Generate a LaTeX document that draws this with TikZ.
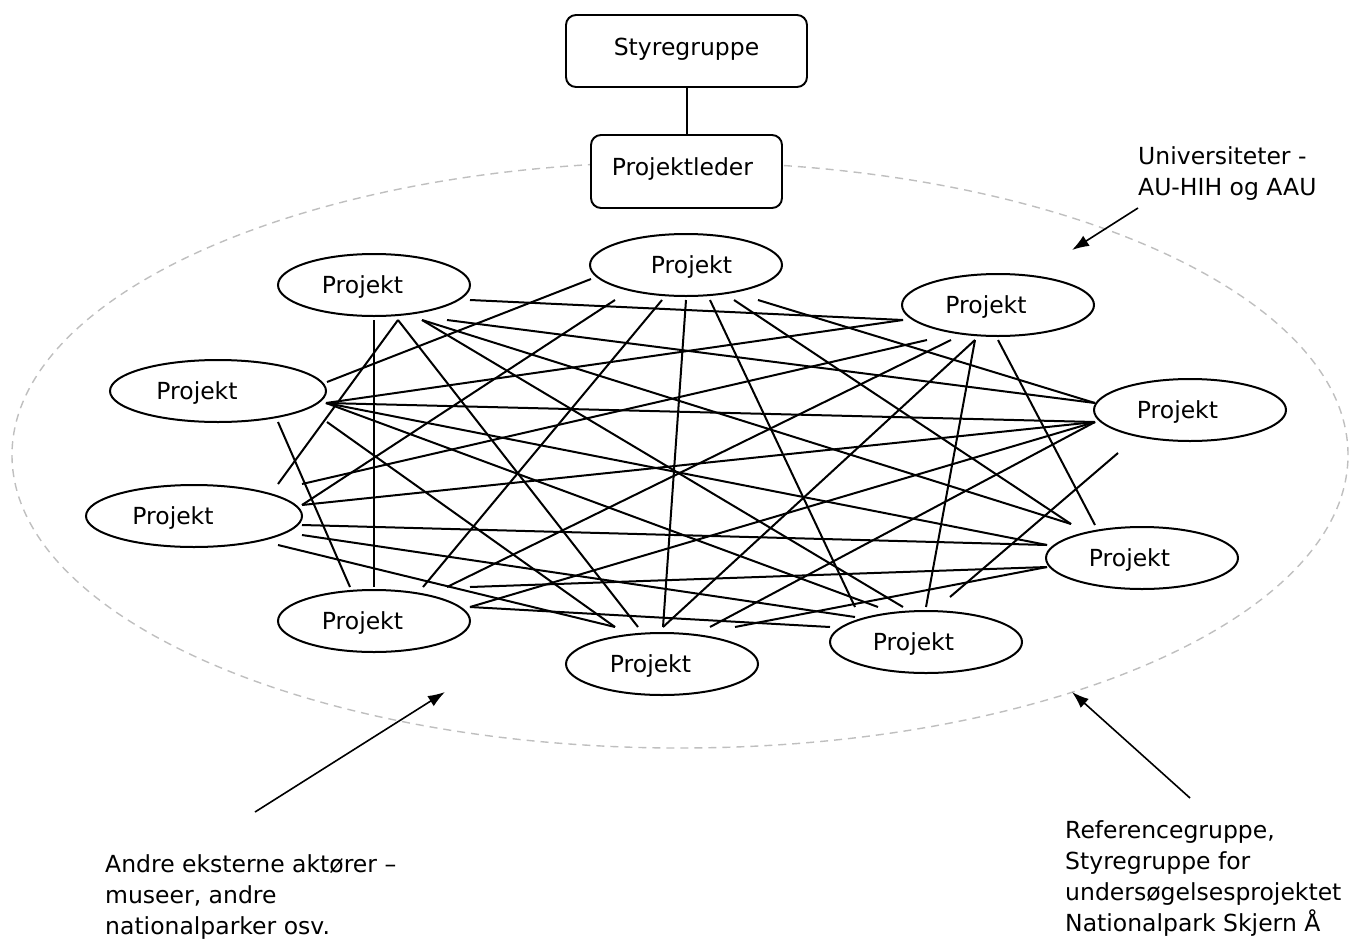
\documentclass[tikz,border=0pt]{standalone}
\usepackage{fontspec}
\setmainfont{DejaVu Sans}
\usetikzlibrary{calc,shapes.geometric,arrows.meta}
\begin{document}
\begin{tikzpicture}[x=1pt,y=-1pt,
  every node/.style={font=\fontsize{23.5}{31.3}\selectfont},
  proj/.style={draw, ellipse, line width=2pt, minimum width=192pt, minimum height=62pt, inner sep=0pt, text height=17pt, text depth=0pt},
  wideproj/.style={proj, minimum width=216pt},
  box/.style={draw, rounded corners=10pt, line width=1.9pt, fill=white, inner sep=0pt, text height=17pt, text depth=9pt},
  link/.style={line width=2pt},
  arr/.style={line width=1.6pt, -{Latex[length=17pt,width=12pt]}},
  note/.style={anchor=north west, align=left, inner sep=0pt}
]
\useasboundingbox (0,0) rectangle (1354,945);
% outer dashed group
\draw[gray!50, line width=1.4pt, dash pattern=on 8pt off 6pt] (680,455) ellipse [x radius=668pt, y radius=293pt];

\node[box, minimum width=241pt, minimum height=72pt] (sty) at (686.5,51) {Styregruppe};
\node[box, minimum width=191pt, minimum height=73pt] (pl) at (686.5,171.5) {Projektleder\kern8pt};
\draw[link] (sty) -- (pl);

\node[proj] (p1) at (374,285) {Projekt\kern23pt};
\node[proj] (p2) at (686,265) {\kern11pt Projekt};
\node[proj] (p3) at (998,305) {Projekt\kern24pt};
\node[wideproj] (p4) at (218,391) {Projekt\kern42pt};
\node[proj] (p5) at (1190,410) {Projekt\kern25pt};
\node[wideproj] (p6) at (194,516) {Projekt\kern42pt};
\node[proj] (p7) at (1142,558) {Projekt\kern25pt};
\node[proj] (p8) at (374,621) {Projekt\kern23pt};
\node[proj] (p9) at (662,664) {Projekt\kern23pt};
\node[proj] (p10) at (926,642) {Projekt\kern25pt};

\foreach \a/\ax/\ay/\b/\bx/\by in {
  p1/96/15/p3/-95/15, p1/0/35/p8/0/-34, p1/24/35/p6/84/-32, p1/24/35/p9/-24/-37,
  p1/48/35/p10/-23/-35, p1/48/35/p7/-71/-34, p1/73/35/p5/-95/-7,
  p2/-95/14/p4/109/-9, p2/-71/35/p6/108/-11, p2/-24/35/p8/49/-34, p2/0/35/p9/1/-37,
  p2/24/35/p10/-71/-35, p2/48/35/p7/-71/-34, p2/72/35/p5/-95/-7,
  p3/-95/15/p4/108/12, p3/-71/35/p6/108/-32, p3/-47/35/p8/73/-34, p3/-23/35/p9/1/-37,
  p3/-23/35/p10/0/-35, p3/0/35/p7/-47/-33,
  p4/108/12/p5/-95/12, p4/108/12/p7/-95/-13, p4/108/12/p10/-48/-35, p4/109/31/p9/-47/-37,
  p4/60/31/p8/-24/-34,
  p5/-95/12/p6/108/-11, p5/-95/12/p8/96/-14, p5/-95/12/p9/48/-37, p5/-72/43/p10/24/-45,
  p6/108/9/p7/-95/-13, p6/108/19/p10/-71/-25, p6/84/29/p9/-47/-37,
  p7/-95/9/p8/96/-34, p7/-95/9/p9/73/-37,
  p8/96/-14/p10/-96/-15}
  \draw[link] ($(\a)+(\ax,\ay)$) -- ($(\b)+(\bx,\by)$);

\node[note] (uni) at (1138,146) {Universiteter -\\AU-HIH og AAU};
\node[note] (andre) at (105,854) {Andre eksterne aktører –\\museer, andre\\nationalparker osv.};
\node[note] (ref) at (1065,820) {Referencegruppe,\\Styregruppe for\\undersøgelsesprojektet\\Nationalpark Skjern Å};

\coordinate (u0) at (1138,208);
\coordinate (u1) at (1072,250);
\coordinate (a0) at (255,812);
\coordinate (a1) at (445,692);
\coordinate (r0) at (1190,798);
\coordinate (r1) at (1072,692);
\draw[arr] (u0) -- (u1);
\draw[arr] (a0) -- (a1);
\draw[arr] (r0) -- (r1);
\end{tikzpicture}
\end{document}
